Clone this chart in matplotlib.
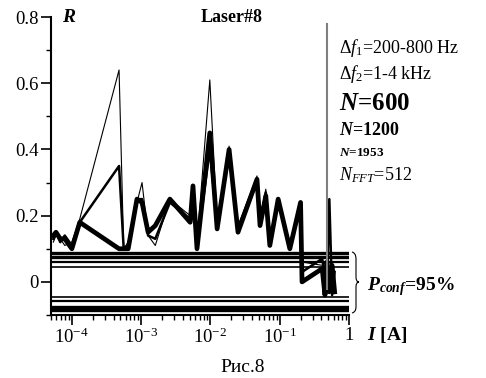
import matplotlib
matplotlib.use("Agg")
import matplotlib.pyplot as plt
from matplotlib.path import Path
from matplotlib.patches import PathPatch
from matplotlib.ticker import FixedLocator, FixedFormatter

plt.rcParams["font.family"] = ["Liberation Serif", "DejaVu Serif"]
plt.rcParams["mathtext.fontset"] = "custom"
plt.rcParams["mathtext.rm"] = "Liberation Serif"
plt.rcParams["mathtext.it"] = "Liberation Serif:italic"
plt.rcParams["mathtext.bf"] = "Liberation Serif:bold"
plt.rcParams["mathtext.bfit"] = "Liberation Serif:bold:italic"

# current, A
current = [5.4e-5, 5.9e-5, 6.8e-5, 7.9e-5, 1.0e-4, 1.3e-4, 4.8e-4, 5.6e-4, 6.5e-4,
           8.7e-4, 1.03e-3, 1.26e-3, 1.6e-3, 2.6e-3, 5.1e-3, 5.6e-3, 6.4e-3,
           9.8e-3, 1.25e-2, 1.86e-2, 2.5e-2, 4.7e-2, 5.2e-2, 6.3e-2, 7.2e-2,
           9.5e-2, 0.14, 0.2, 0.21, 0.41, 0.45, 0.48, 0.52, 0.57, 0.62]

r_thick = [0.14, 0.15, 0.13, 0.13, 0.10, 0.18, 0.10, 0.10, 0.10,
           0.25, 0.24, 0.15, 0.17, 0.25, 0.18, 0.29, 0.10,
           0.45, 0.16, 0.40, 0.15, 0.31, 0.17, 0.26, 0.11,
           0.25, 0.10, 0.24, 0.00, 0.04, -0.04, 0.06, -0.03, 0.05, -0.03]

r_medium = [0.13, 0.15, 0.12, 0.14, 0.11, 0.18, 0.35, 0.10, 0.11,
            0.25, 0.25, 0.14, 0.13, 0.24, 0.19, 0.28, 0.11,
            0.40, 0.17, 0.39, 0.16, 0.30, 0.18, 0.27, 0.12,
            0.24, 0.11, 0.22, 0.03, 0.07, 0.02, -0.02, 0.25, -0.04, 0.03]

r_thin = [0.12, 0.14, 0.13, 0.11, 0.12, 0.19, 0.64, 0.10, 0.12,
          0.24, 0.30, 0.14, 0.11, 0.25, 0.20, 0.27, 0.12,
          0.61, 0.18, 0.41, 0.17, 0.32, 0.19, 0.28, 0.13,
          0.24, 0.12, 0.23, 0.06, 0.05, 0.06, 0.02, -0.01, 0.04, 0.00]

# 95% confidence levels
conf_levels = [0.045, 0.059, 0.076, 0.086]
conf_widths = [1.2, 1.6, 2.4, 2.4]

marker_x = [0.48, 0.48]
marker_y = [0.78, -0.02]

fig = plt.figure(figsize=(4.86, 3.78), dpi=100)
ax = fig.add_axes([51/486, 1-315/378, 298/486, 298/378])

for lv, lw in zip(conf_levels, conf_widths):
    ax.axhline(lv, color="black", lw=lw)
    ax.axhline(-lv, color="black", lw=lw)

ax.plot(current, r_thick, color="black", lw=3.4)
ax.plot(current, r_medium, color="black", lw=1.8)
ax.plot(current, r_thin, color="black", lw=0.8)
ax.plot(marker_x, marker_y, color="#808080", lw=1.5)

ax.set_xscale("log")
ax.set_xlim(5e-5, 1)
ax.set_ylim(-0.1, 0.8)

ax.spines["top"].set_visible(False)
ax.spines["right"].set_visible(False)
ax.spines["left"].set_linewidth(1.5)
ax.spines["bottom"].set_linewidth(1.5)

ax.yaxis.set_major_locator(FixedLocator([0, 0.2, 0.4, 0.6, 0.8]))
ax.yaxis.set_major_formatter(FixedFormatter(["0", "0.2", "0.4", "0.6", "0.8"]))
ax.yaxis.set_minor_locator(FixedLocator([-0.1, 0.1, 0.3, 0.5, 0.7]))

ax.xaxis.set_major_locator(FixedLocator([1e-4, 1e-3, 1e-2, 1e-1, 1]))
ax.xaxis.set_major_formatter(FixedFormatter([r"$10^{-4}$", r"$10^{-3}$", r"$10^{-2}$",
                                             r"$10^{-1}$", "1"]))
minor = [m * 10.0 ** e for e in range(-5, 0) for m in range(2, 10)]
ax.xaxis.set_minor_locator(FixedLocator([v for v in minor if 5e-5 <= v < 1]))

ax.tick_params(which="major", direction="out", length=7, width=1.2, labelsize=13.5, pad=2)
ax.tick_params(which="minor", direction="out", length=3.5, width=1.0)

ax.text(62/486, 1-17/378, "R", transform=fig.transFigure, fontsize=14,
        fontweight="bold", fontstyle="italic", va="center", ha="left")
ax.text(232/486, 1-17/378, "Laser#8", transform=fig.transFigure, fontsize=13,
        fontweight="bold", va="center", ha="center")

tx = 339/486
ax.text(tx, 1-48/378, r"$\Delta f_1$=200-800 Hz", transform=fig.transFigure,
        fontsize=13, va="center", ha="left")
ax.text(tx, 1-74/378, r"$\Delta f_2$=1-4 kHz", transform=fig.transFigure,
        fontsize=13, va="center", ha="left")
ax.text(tx, 1-103/378, r"$\mathbfit{N}$=600", transform=fig.transFigure,
        fontsize=18, fontweight="bold", va="center", ha="left")
ax.text(tx, 1-131/378, r"$\mathbfit{N}$=1200", transform=fig.transFigure,
        fontsize=13, fontweight="bold", va="center", ha="left")
ax.text(tx, 1-153/378, r"$\mathbfit{N}$=1953", transform=fig.transFigure,
        fontsize=9.5, fontweight="bold", va="center", ha="left")
ax.text(tx, 1-175/378, r"$N_{FFT}$=512", transform=fig.transFigure,
        fontsize=13, va="center", ha="left")

ax.text(367/486, 1-287/378, r"$\mathbfit{P}_{\mathbfit{conf}}$=95%",
        transform=fig.transFigure, fontsize=14, fontweight="bold", va="center", ha="left")
ax.text(367/486, 1-335/378, r"$\mathbfit{I}$ [A]", transform=fig.transFigure,
        fontsize=14, fontweight="bold", va="center", ha="left")
ax.text(243/486, 1-367/378, "Рис.8", transform=fig.transFigure,
        fontsize=14, va="center", ha="center")

# curly brace next to the confidence band
def px(x, y):
    return (x / 486, 1 - y / 378)

verts = [px(352, 252), px(356, 253), px(356, 259), px(356, 277),
         px(356, 282), px(359, 282), px(356, 282), px(356, 287),
         px(356, 307), px(356, 312), px(352, 313)]
codes = [Path.MOVETO, Path.CURVE3, Path.CURVE3, Path.LINETO,
         Path.CURVE3, Path.CURVE3, Path.CURVE3, Path.CURVE3,
         Path.LINETO, Path.CURVE3, Path.CURVE3]
fig.patches.append(PathPatch(Path(verts, codes), transform=fig.transFigure,
                             fill=False, lw=0.8, color="black"))

fig.savefig("out.png", dpi=100)
